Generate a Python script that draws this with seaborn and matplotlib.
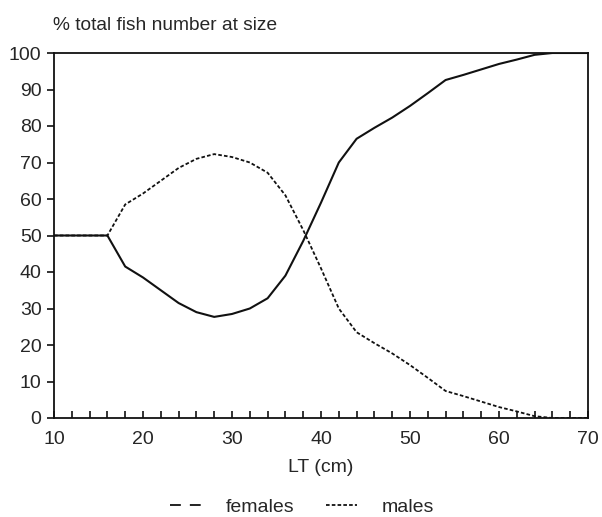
import numpy as np
import matplotlib
matplotlib.use('Agg')
import matplotlib.pyplot as plt
import seaborn as sns
from matplotlib.lines import Line2D
from matplotlib.ticker import MultipleLocator

# Data: total length (cm) vs % of fish at size
lengths = [10, 12, 14, 16, 18, 20, 22, 24, 26, 28, 30, 32, 34, 36, 38, 40,
           42, 44, 46, 48, 50, 52, 54, 56, 58, 60, 62, 64, 66, 68, 70]
females = [50, 50, 50, 50, 41.5, 38.5, 35, 31.5, 29, 27.7, 28.5, 30, 32.8, 39, 48.5, 59,
           70, 76.5, 79.5, 82.3, 85.5, 89, 92.6, 94, 95.5, 97, 98.2, 99.5, 100, 100, 100]
males = [50, 50, 50, 50, 58.5, 61.5, 65, 68.5, 71, 72.3, 71.5, 70, 67.2, 61, 51.5, 41,
         30, 23.5, 20.5, 17.7, 14.5, 11, 7.4, 6, 4.5, 3, 1.8, 0.5, 0, 0, 0]

sns.set_style('ticks')
plt.rcParams['font.family'] = ['Liberation Sans', 'DejaVu Sans']

fig = plt.figure(figsize=(6.02, 5.17), dpi=100)
ax = fig.add_axes([54 / 602, 99 / 517, 534 / 602, 365 / 517])

# males first so the solid female line sits on top where they overlap
sns.lineplot(x=lengths, y=males, ax=ax, color='#111111', linewidth=1.3,
             linestyle=(0, (2, 1.2)))
sns.lineplot(x=lengths, y=females, ax=ax, color='#111111', linewidth=1.5)

ax.set_xlim(10, 70)
ax.set_ylim(0, 100)
ax.set_xticks(range(10, 71, 10))
ax.set_yticks(range(0, 101, 10))
ax.xaxis.set_minor_locator(MultipleLocator(2))
ax.tick_params(axis='x', which='both', direction='in', length=5, width=1.2,
               labelsize=14, pad=9, color='#111111')
ax.tick_params(axis='y', direction='out', length=5, width=1.2,
               labelsize=14, pad=4, color='#111111')
for side in ['left', 'right', 'top', 'bottom']:
    ax.spines[side].set_visible(True)
    ax.spines[side].set_color('#111111')
    ax.spines[side].set_linewidth(1.3)

ax.set_xlabel('LT (cm)', fontsize=14, labelpad=8)
ax.set_ylabel('')
fig.text(53 / 602, 1 - 25 / 517, '% total fish number at size', fontsize=13.8,
         ha='left', va='center')

handles = [Line2D([], [], color='#111111', linewidth=1.3, linestyle=(0, (6, 5))),
           Line2D([], [], color='#111111', linewidth=1.3, linestyle=(0, (2, 1.2)))]
fig.legend(handles, ['females', 'males'], ncol=2, frameon=False, fontsize=14,
           loc='center', bbox_to_anchor=(302 / 602, 1 - 507 / 517),
           handlelength=1.6, handletextpad=1.3, columnspacing=1.6)

fig.savefig('out.png', dpi=100)
